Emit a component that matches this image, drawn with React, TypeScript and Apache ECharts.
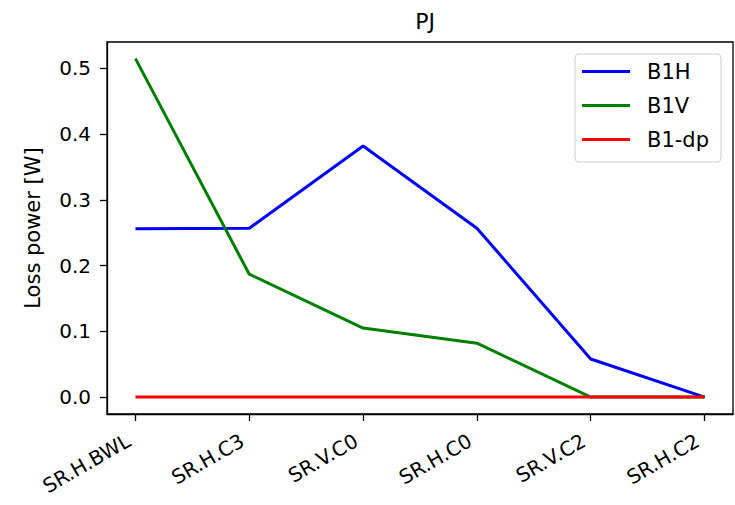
import React, { useEffect, useRef } from "react";
import * as echarts from "echarts";

const categories = ["SR.H.BWL", "SR.H.C3", "SR.V.C0", "SR.H.C0", "SR.V.C2", "SR.H.C2"];
const b1h = [0.256, 0.257, 0.382, 0.257, 0.058, 0.0];
const b1v = [0.515, 0.187, 0.105, 0.082, 0.0, 0.0];
const b1dp = [0.0, 0.0, 0.0, 0.0, 0.0, 0.0];
const yTicks = [0, 0.1, 0.2, 0.3, 0.4, 0.5];

const FONT = "DejaVu Sans";

export default function App() {
  const ref = useRef<HTMLDivElement>(null);
  useEffect(() => {
    if (!ref.current) return;
    const chart = echarts.init(ref.current, null, { renderer: "svg" });
    const toPairs = (arr: number[]) => arr.map((v, i) => [i, v]);
    const idx = categories.map((_, i) => i);
    chart.setOption({
      animation: false,
      backgroundColor: "#ffffff",
      title: {
        text: "PJ",
        left: 420,
        top: 5,
        textAlign: "center",
        textStyle: { fontFamily: FONT, fontSize: 22, fontWeight: "normal", color: "#000" },
      },
      grid: {
        left: 107,
        right: 2,
        top: 42,
        bottom: 91,
        show: true,
        borderColor: "#000",
        borderWidth: 1.3,
        backgroundColor: "transparent",
      },
      legend: {
        orient: "vertical",
        left: 575,
        top: 54,
        padding: [7, 12, 12, 7],
        icon: "rect",
        itemWidth: 48,
        itemHeight: 3,
        itemGap: 13,
        borderColor: "#cccccc",
        borderWidth: 1,
        borderRadius: 4,
        backgroundColor: "rgba(255,255,255,0.8)",
        textStyle: {
          fontFamily: FONT,
          fontSize: 21,
          lineHeight: 20,
          color: "#000",
          padding: [0, 0, 0, 12],
        },
        data: ["B1H", "B1V", "B1-dp"],
      },
      xAxis: {
        type: "value",
        min: -0.25,
        max: 5.25,
        splitLine: { show: false },
        axisLine: { show: true, onZero: false, lineStyle: { color: "#000", width: 1.3 } },
        axisTick: { show: true, length: 7, customValues: idx, lineStyle: { color: "#000", width: 1.3 } },
        axisLabel: {
          customValues: idx,
          rotate: 30,
          margin: 21,
          padding: [0, 8, 0, 0],
          fontFamily: FONT,
          fontSize: 20,
          color: "#000",
          formatter: (v: number) => categories[Math.round(v)] ?? "",
        },
      },
      yAxis: {
        type: "value",
        min: -0.0257,
        max: 0.5403,
        name: "Loss power [W]",
        nameLocation: "middle",
        nameGap: 64,
        nameTextStyle: { fontFamily: FONT, fontSize: 21, color: "#000" },
        splitLine: { show: false },
        axisLine: { show: true, onZero: false, lineStyle: { color: "#000", width: 1.3 } },
        axisTick: { show: true, length: 7, customValues: yTicks, lineStyle: { color: "#000", width: 1.3 } },
        axisLabel: {
          customValues: yTicks,
          margin: 16,
          fontFamily: FONT,
          fontSize: 20,
          color: "#000",
          formatter: (v: number) => v.toFixed(1),
        },
      },
      series: [
        {
          name: "B1H",
          type: "line",
          data: toPairs(b1h),
          symbol: "none",
          lineStyle: { color: "#0000ff", width: 3 },
          itemStyle: { color: "#0000ff" },
          z: 2,
        },
        {
          name: "B1V",
          type: "line",
          data: toPairs(b1v),
          symbol: "none",
          lineStyle: { color: "#008000", width: 3 },
          itemStyle: { color: "#008000" },
          z: 3,
        },
        {
          name: "B1-dp",
          type: "line",
          data: toPairs(b1dp),
          symbol: "none",
          lineStyle: { color: "#ff0000", width: 3 },
          itemStyle: { color: "#ff0000" },
          z: 4,
        },
      ],
    });
    return () => chart.dispose();
  }, []);
  return <div ref={ref} style={{ width: 735, height: 505, position: "absolute", left: 0, top: 0 }} />;
}
